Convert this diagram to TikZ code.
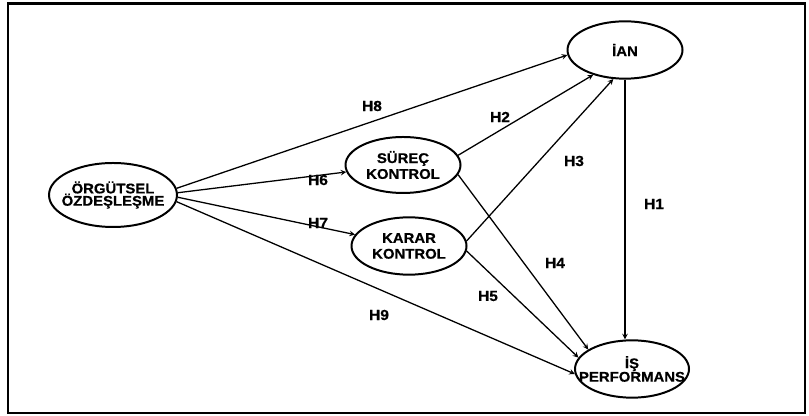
\documentclass[tikz,border=0pt]{standalone}
\usepackage{fontspec}
\usepackage{tikz}
\usetikzlibrary{shapes.geometric, arrows}
\newfontfamily\figfont{Liberation Sans}[FakeStretch=1.06, FakeBold=0.5]
\tikzstyle{var} = [ellipse, minimum width=3.45cm, minimum height=1.72cm, inner sep=0pt, draw=black, line width=1.7pt, fill=white]
\tikzstyle{vartext} = [align=center, font=\figfont\bfseries\fontsize{12}{13.5}\selectfont]
\tikzstyle{hyp} = [font=\figfont\bfseries\fontsize{12.5}{13}\selectfont]
\tikzstyle{arrow} = [line width=1.1pt,->,>=stealth]

\begin{document}
\begin{tikzpicture}

\useasboundingbox (0,0) rectangle (24.27,12.48);
\draw [line width=2pt] (0.24,0.08) rectangle (24.15,12.37);

\node (org) [var, minimum width=3.84cm, minimum height=1.92cm, label={[vartext]center:ÖRGÜTSEL\\[-3pt]ÖZDEŞLEŞME}] at (3.39,6.63) {};
\node (sur) [var, minimum height=1.68cm, label={[vartext]center:SÜREÇ\\KONTROL}] at (12.09,7.53) {};
\node (kar) [var, label={[vartext]center:KARAR\\KONTROL}] at (12.27,5.10) {};
\node (ian) [var, label={[vartext]center:İAN}] at (18.75,10.98) {};
\node (isp) [var, minimum width=3.42cm, label={[vartext]center:İŞ\\[-2pt]PERFORMANS}] at (18.96,1.41) {};

\node (h8) [hyp] at (11.16,9.30) {H8};
\node (h2) [hyp] at (15.00,8.97) {H2};
\node (h3) [hyp] at (17.22,7.65) {H3};
\node (h6) [hyp] at (9.54,7.08) {H6};
\node (h1) [hyp] at (19.62,6.36) {H1};
\node (h7) [hyp] at (9.54,5.79) {H7};
\node (h4) [hyp] at (16.65,4.59) {H4};
\node (h5) [hyp] at (14.64,3.60) {H5};
\node (h9) [hyp] at (11.37,3.03) {H9};

\draw [arrow] (org.6) -- (ian.185);
\draw [arrow] (org.2) -- (sur);
\draw [arrow] (org.-2) -- (kar);
\draw [arrow] (org.-6) -- (isp.185);

\draw [arrow] (sur.10) -- (ian.218);
\draw [arrow] (sur.-10) -- (isp.156);
\draw [arrow] (kar.5) -- (ian.248);
\draw [arrow] (kar.-5) -- (isp.168);

\draw [arrow] (ian.south) -- (ian.south |- isp.north);

\end{tikzpicture}
\end{document}
